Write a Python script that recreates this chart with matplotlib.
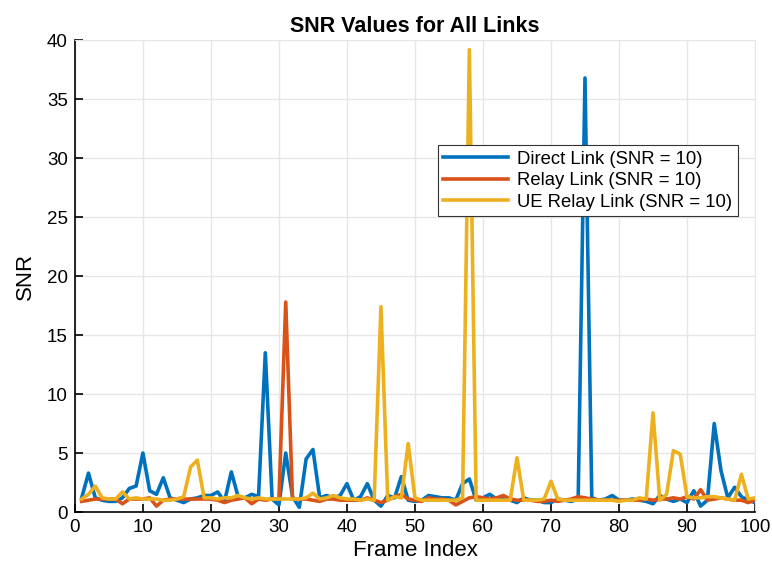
import numpy as np
from matplotlib import pyplot as plt

plt.rcParams['font.family'] = ['Liberation Sans', 'DejaVu Sans']

frames = np.arange(1, 101)

direct_snr = [1.2, 3.3, 1.2, 1.0, 0.9, 0.9, 1.2, 2.0, 2.2, 5.0,
              1.8, 1.5, 2.9, 1.2, 1.0, 0.8, 1.1, 1.2, 1.4, 1.4,
              1.7, 0.9, 3.4, 1.3, 1.2, 1.5, 1.3, 13.5, 1.1, 0.6,
              5.0, 1.3, 0.4, 4.5, 5.3, 1.2, 1.4, 1.2, 1.4, 2.4,
              1.0, 1.3, 2.4, 1.0, 0.5, 1.4, 1.2, 3.0, 1.0, 0.9,
              1.0, 1.4, 1.3, 1.2, 1.2, 1.0, 2.4, 2.8, 1.0, 1.2,
              1.5, 1.1, 1.2, 1.0, 0.8, 1.2, 1.0, 1.0, 0.8, 0.8,
              1.1, 1.0, 0.9, 1.1, 36.8, 1.2, 1.0, 1.1, 1.4, 1.0,
              1.0, 1.1, 1.0, 0.9, 0.7, 1.4, 1.1, 0.9, 1.1, 0.8,
              1.8, 0.5, 1.0, 7.5, 3.5, 1.2, 2.1, 1.3, 1.0, 0.8]

relay_snr = [0.9, 1.0, 1.1, 1.1, 1.1, 1.1, 0.7, 1.1, 1.1, 1.1,
             1.2, 0.5, 1.0, 1.1, 1.1, 1.1, 1.1, 1.1, 1.1, 1.1,
             1.0, 0.8, 1.0, 1.1, 1.2, 0.7, 1.1, 1.0, 1.1, 1.1,
             17.8, 1.1, 1.1, 1.1, 1.0, 0.9, 1.1, 1.1, 1.0, 1.0,
             1.0, 1.0, 1.2, 1.0, 0.8, 1.0, 1.3, 1.5, 1.1, 1.0,
             0.9, 1.2, 1.1, 1.1, 1.0, 0.6, 0.9, 1.2, 1.3, 1.2,
             1.1, 1.2, 1.4, 1.1, 1.0, 1.0, 1.0, 0.9, 0.9, 1.0,
             0.9, 1.0, 1.1, 1.3, 1.2, 1.1, 1.0, 1.0, 1.0, 1.0,
             1.0, 1.0, 1.0, 1.1, 1.0, 1.1, 1.1, 1.2, 1.1, 1.3,
             1.1, 1.9, 1.0, 1.1, 1.2, 1.1, 1.0, 1.0, 0.8, 1.0]

ue_relay_snr = [1.1, 1.5, 2.2, 1.2, 1.1, 1.1, 1.7, 1.1, 1.2, 1.1,
                1.1, 1.1, 1.0, 1.0, 1.1, 1.3, 3.8, 4.4, 1.2, 1.2,
                1.1, 1.2, 1.2, 1.4, 1.2, 1.1, 1.2, 1.1, 1.1, 1.1,
                1.1, 1.1, 1.1, 1.2, 1.6, 1.1, 1.2, 1.4, 1.2, 1.1,
                1.1, 1.0, 1.1, 1.0, 17.4, 1.0, 1.3, 1.2, 5.8, 1.2,
                1.0, 1.0, 1.0, 1.0, 1.0, 1.0, 1.2, 39.2, 1.0, 1.0,
                1.0, 1.0, 1.0, 1.0, 4.6, 1.0, 1.0, 1.0, 1.1, 2.6,
                1.1, 1.0, 1.0, 1.0, 1.0, 1.0, 1.0, 1.0, 1.0, 0.9,
                1.0, 1.0, 1.2, 1.1, 8.4, 1.0, 1.5, 5.2, 4.9, 1.3,
                1.2, 1.2, 1.3, 1.3, 1.2, 1.1, 1.0, 3.2, 1.1, 1.2]

fig = plt.figure(figsize=(7.72, 5.67), dpi=100)
ax = fig.add_axes([0.097, 0.097, 0.881, 0.832])

ax.plot(frames, direct_snr, color='#0072BD', lw=2.6, label='Direct Link (SNR = 10)')
ax.plot(frames, relay_snr, color='#D95319', lw=2.6, label='Relay Link (SNR = 10)')
ax.plot(frames, ue_relay_snr, color='#EDB120', lw=2.6, label='UE Relay Link (SNR = 10)')

ax.set_xlim(0, 100)
ax.set_ylim(0, 40)
ax.set_xticks(range(0, 101, 10))
ax.set_yticks(range(0, 41, 5))
ax.tick_params(direction='in', length=6, width=1.2, labelsize=13.5, colors='black', pad=5)
ax.grid(True, color='#e6e6e6', lw=1)
ax.set_axisbelow(True)
for s in ['top', 'right']:
    ax.spines[s].set_color('#e6e6e6')
for s in ['left', 'bottom']:
    ax.spines[s].set_linewidth(1.2)

ax.set_xlabel('Frame Index', fontsize=16, labelpad=3)
ax.set_ylabel('SNR', fontsize=16, labelpad=8)
ax.set_title('SNR Values for All Links', fontsize=15.5, fontweight='bold', pad=6)

leg = ax.legend(loc='upper right', bbox_to_anchor=(0.975, 0.778), fontsize=13.3,
                fancybox=False, framealpha=1, edgecolor='#333333',
                handlelength=3.5, borderpad=0.3, labelspacing=0.25, handletextpad=0.5,
                borderaxespad=0)
leg.get_frame().set_linewidth(0.8)

fig.savefig('out.png', dpi=100)
